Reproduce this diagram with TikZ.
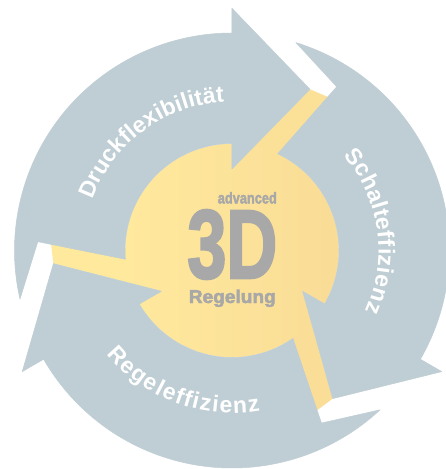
\documentclass[tikz,border=0pt]{standalone}
\usepackage{fontspec}
\usepackage{graphicx}
\setmainfont{Liberation Sans}
\newfontfamily\heavyfont{Liberation Sans}[UprightFont={* Bold}, FakeBold=2.6]
\newfontfamily\arcfont{Liberation Sans}[UprightFont={* Bold}]
\newcommand\arcfmt{\arcfont\fontsize{23}{25}\selectfont}
\usetikzlibrary{decorations.text}
\definecolor{ringgray}{HTML}{BFCED4}
\definecolor{yelL}{HTML}{FFE99D}
\definecolor{yelR}{HTML}{F9DC96}
\definecolor{yelA}{HTML}{FBE098}
\definecolor{yelB}{HTML}{FADE97}
\definecolor{txtgray}{HTML}{A8A8A8}
\tikzset{
  ringarrow/.style={fill=ringgray, draw=ringgray, line width=0.5pt, line join=round},
  arclabel/.style={font=\arcfmt, decorate, decoration={text along path, text color=white,
      text align=fit to path, text={|\arcfmt|#1}}},
  centertext/.style={anchor=base east, text=txtgray, inner sep=0pt, font=\heavyfont},
}
\begin{document}
\begin{tikzpicture}[x=1pt,y=1pt]
\useasboundingbox (-232,-218.5) rectangle (214,250.5);
\clip (-232,-218.5) rectangle (214,250.5);
\fill[white] (-232,-218.5) rectangle (214,250.5);
% yellow spokes
\foreach \ang/\col in {0/yelA, -120/yelB, -240/yelL}{
  \begin{scope}[rotate=\ang]
    \fill[\col] (78,161.2) -- (104,150.1) -- (58,95) -- (0,81.5) -- cycle;
  \end{scope}
}
% yellow centre disc
\shade[left color=yelL, right color=yelR] (0,0) circle[radius=106.8];
% three circular arrows
\foreach \ang in {0,-120,-240}{
  \begin{scope}[rotate=\ang]
    \filldraw[ringarrow] (192.9:217.5) arc[start angle=192.9, end angle=90, radius=217.5]
      -- (90:242.2) -- (64.2:179.1) -- (90:81.5) -- (90:107)
      arc[start angle=90, end angle=184.7, radius=107]
      -- (177.4:194.4) -- cycle;
  \end{scope}
}
% arc labels
{\arcfmt
\path[arclabel={Druckflexibilität}] (160:148.5) arc[start angle=160, end angle=93, radius=148.5];
\path[arclabel={Schalteffizienz}] (40.4:146.5) arc[start angle=40.4, end angle=-24.3, radius=146.5];
\path[arclabel={Regeleffizienz}] (219.5:162.5) arc[start angle=219.5, end angle=280, radius=162.5];
}
% centre text
\node[centertext] (adv) at (45,47) {\resizebox{59pt}{11.5pt}{advanced}};
\node[centertext] (threed) at (45.5,-27.5) {\resizebox{90pt}{68pt}{3D}};
\node[centertext] (reg) at (44,-52.5) {\resizebox{87pt}{13.5pt}{Regelung}};
\end{tikzpicture}
\end{document}
